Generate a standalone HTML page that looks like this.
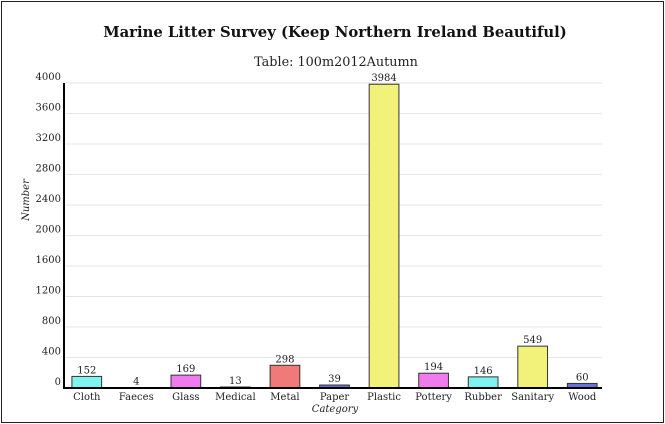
<!DOCTYPE html>
<html><head><meta charset="utf-8"><style>
html,body{margin:0;padding:0;background:#fff;}
body{width:665px;height:424px;overflow:hidden;position:relative;}
.frame{position:absolute;left:1px;top:1px;width:661px;height:420px;border:1px solid #222;}
svg{position:absolute;left:0;top:0;font-family:"DejaVu Serif","Liberation Serif",serif;}
</style></head><body>
<div class="frame"></div>
<svg id="chart" width="665" height="424">
<text x="335" y="37" text-anchor="middle" font-size="14.8" font-weight="bold" fill="#111">Marine Litter Survey (Keep Northern Ireland Beautiful)</text>
<text x="336" y="66" text-anchor="middle" font-size="12.8" fill="#222">Table: 100m2012Autumn</text>
<text transform="translate(29,200) rotate(-90)" text-anchor="middle" font-size="10" font-style="italic" fill="#222">Number</text>
<text x="335" y="412" text-anchor="middle" font-size="10" font-style="italic" fill="#222">Category</text>
</svg>
<script>
const categories=["Cloth","Faeces","Glass","Medical","Metal","Paper","Plastic","Pottery","Rubber","Sanitary","Wood"];
const values=[152,4,169,13,298,39,3984,194,146,549,60];
const colors=["#7ff3f0","#7ff3f0","#f07bef","#f07bef","#f07a78","#6d6fd8","#f2f27a","#f07bef","#7ff3f0","#f2f27a","#6d6fd8"];
const yTicks=[0,400,800,1200,1600,2000,2400,2800,3200,3600,4000];
const NS="http://www.w3.org/2000/svg";
const svg=document.getElementById('chart');
const x0=64,x1=602,xBand=607,yb=388,yt=83,yMax=4000;
const band=(xBand-62)/categories.length;
const y=v=>yb-(v/yMax)*(yb-yt);
const xc=i=>62+band*(i+0.5);
function mk(tag,attrs){const e=document.createElementNS(NS,tag);for(const k in attrs)e.setAttribute(k,attrs[k]);svg.appendChild(e);return e;}
yTicks.forEach(t=>{
  if(t>0){const g=mk('line',{x1:x0,x2:x1,y1:y(t),y2:y(t),stroke:'#e6e6e6','stroke-width':1});
  
  }
  const l=mk('text',{x:x0-3,y:y(t)-3,'text-anchor':'end','font-size':10,fill:'#222'});
  l.textContent=t;
  
  
});
categories.forEach((c,i)=>{
  const w=band*0.6,v=values[i];
  const r=mk('rect',{x:xc(i)-w/2,y:y(v),width:w,height:yb-y(v),fill:colors[i],stroke:'#333','stroke-width':1});
  
  
  const t=mk('text',{x:xc(i),y:y(v)-3,'text-anchor':'middle','font-size':10,fill:'#222'});
  t.textContent=v;
  
  
  const xl=mk('text',{x:xc(i),y:yb+12,'text-anchor':'middle','font-size':10,fill:'#222'});
  xl.textContent=c;
  
  
});
const ya=mk('line',{x1:x0,x2:x0,y1:yt,y2:yb+1,stroke:'#000','stroke-width':2});


const xa=mk('line',{x1:x0,x2:x1,y1:yb,y2:yb,stroke:'#000','stroke-width':2});


</script>
</body></html>
